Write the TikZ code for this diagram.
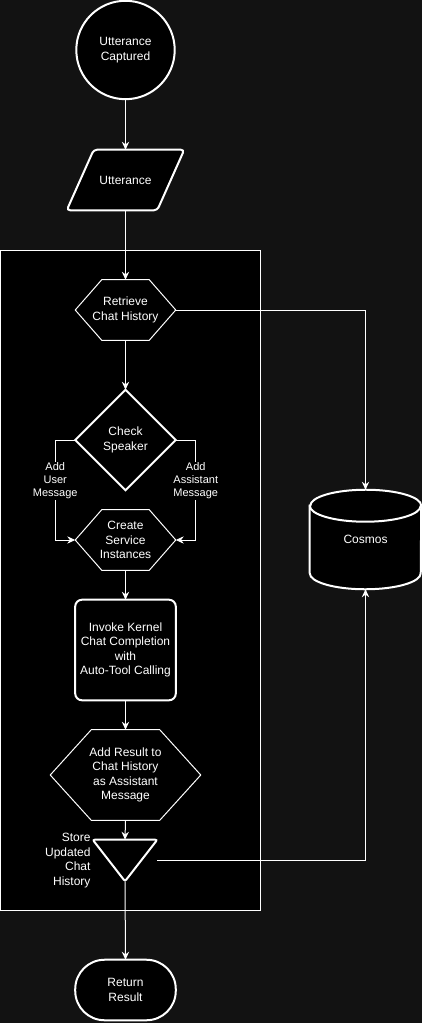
\documentclass[tikz,border=0pt]{standalone}
\usepackage{fontspec}
\setmainfont{Liberation Sans}
\usetikzlibrary{calc,arrows.meta,backgrounds}
\definecolor{canvas}{HTML}{121212}
\begin{document}
\begin{tikzpicture}[x=0.75pt,y=-0.75pt,
  txt/.style={text=white, font=\fontsize{9}{10.8}\selectfont, align=center, inner sep=0pt, shape=rectangle},
  elabel/.style={fill=black, text=white, font=\fontsize{8.25}{9.75}\selectfont, align=center, inner sep=1pt},
  conn/.style={draw=white, line width=0.75pt, -{Stealth[length=6pt,width=5.5pt,inset=2pt]}},
  thickshape/.style={draw=white, fill=black, line width=1.5pt},
  thinshape/.style={draw=white, fill=black, line width=0.75pt}]
\useasboundingbox (0,0) rectangle (422,1023);

% nodes (text holders)
\node[txt, minimum size=75pt] (cap) at (125.5,50) {Utterance\\Captured};
\node[txt, minimum width=87.75pt, minimum height=45pt] (utt) at (125.5,180) {Utterance};
\node[txt, minimum width=75pt, minimum height=45pt] (ret) at (125.5,310) {Retrieve\\Chat History};
\node[txt, minimum size=75pt] (chk) at (125.5,440) {Check\\Speaker};
\node[txt, minimum width=75pt, minimum height=45pt] (crt) at (125.5,540) {Create\\Service\\Instances};
\node[txt, minimum size=75pt] (inv) at (125.5,650) {Invoke Kernel\\Chat Completion\\with\\Auto-Tool Calling};
\node[txt, minimum width=112.5pt, minimum height=67.5pt] (add) at (125.5,775) {Add Result to\\Chat History\\as Assistant\\Message};
\node[txt, minimum width=48pt, minimum height=30.75pt] (sto) at (125,860.5) {};
\node[txt, anchor=east, align=right] (stol) at ([xshift=-1.5pt]sto.west) {Store\\Updated\\Chat\\History};
\node[txt, minimum width=75pt, minimum height=45pt] (res) at (125.5,990) {Return\\Result};
\node[txt, minimum width=83.25pt, minimum height=74.25pt] (cos) at (365.5,539.5) {Cosmos};

% connectors
\draw[conn] (cap.south) -- (utt.north);
\draw[conn] (utt.south) -- (ret.north);
\draw[conn] (ret.east) -| (cos.north);
\draw[conn] (ret.south) -- (chk.north);
\draw[conn] (chk.west) -- ++(-20,0) -- node[elabel,pos=0.41]{Add\\User\\Message} ++(0,100) -- (crt.west);
\draw[conn] (chk.east) -- ++(20,0) -- node[elabel,pos=0.41]{Add\\Assistant\\Message} ++(0,100) -- (crt.east);
\draw[conn] (crt.south) -- (inv.north);
\draw[conn] (inv.south) -- (add.north);
\draw[conn] (add.south) -- (sto.north);
\draw[conn] (sto.east) -| (cos.south);
\draw[conn] (sto.south) -- (res.north);

\begin{scope}[on background layer]
\fill[canvas] (0,0) rectangle (422,1023);
\draw[thinshape] (0.5,250.5) rectangle (260.5,910.5);
% circle
\draw[thickshape] (cap.center) circle[radius=36.9pt];
% parallelogram
\draw[thickshape, rounded corners=2.5pt] ($(utt.north west)+(27,0)$) -- (utt.north east) -- ($(utt.south east)+(-27,0)$) -- (utt.south west) -- cycle;
% hexagons
\draw[thinshape] ($(ret.north west)+(26.5,0)$) -- ($(ret.north east)+(-26.5,0)$) -- (ret.east) -- ($(ret.south east)+(-26.5,0)$) -- ($(ret.south west)+(26.5,0)$) -- (ret.west) -- cycle;
\draw[thinshape] ($(crt.north west)+(26.5,0)$) -- ($(crt.north east)+(-26.5,0)$) -- (crt.east) -- ($(crt.south east)+(-26.5,0)$) -- ($(crt.south west)+(26.5,0)$) -- (crt.west) -- cycle;
\draw[thinshape] ($(add.north west)+(41,0)$) -- ($(add.north east)+(-41,0)$) -- (add.east) -- ($(add.south east)+(-41,0)$) -- ($(add.south west)+(41,0)$) -- (add.west) -- cycle;
% diamond
\draw[thickshape] (chk.north) -- (chk.east) -- (chk.south) -- (chk.west) -- cycle;
% rounded rectangle
\draw[thickshape, rounded corners=5pt] (inv.north west) rectangle (inv.south east);
% triangle
\draw[thickshape, rounded corners=1.5pt] (sto.north west) -- (sto.north east) -- (sto.south) -- cycle;
% terminator
\draw[thickshape, rounded corners=22pt] (res.north west) rectangle (res.south east);
% cylinder
\draw[thickshape] ($(cos.north west)+(0,16)$) -- ($(cos.south west)+(0,-16)$)
  arc[start angle=180, end angle=360, x radius=41.625pt, y radius=12pt]
  -- ($(cos.north east)+(0,16)$)
  arc[start angle=0, end angle=180, x radius=41.625pt, y radius=12pt] -- cycle;
\draw[draw=white, line width=1.5pt] ($(cos.north west)+(0,16)$)
  arc[start angle=180, end angle=360, x radius=41.625pt, y radius=12pt];
\end{scope}
\end{tikzpicture}
\end{document}
